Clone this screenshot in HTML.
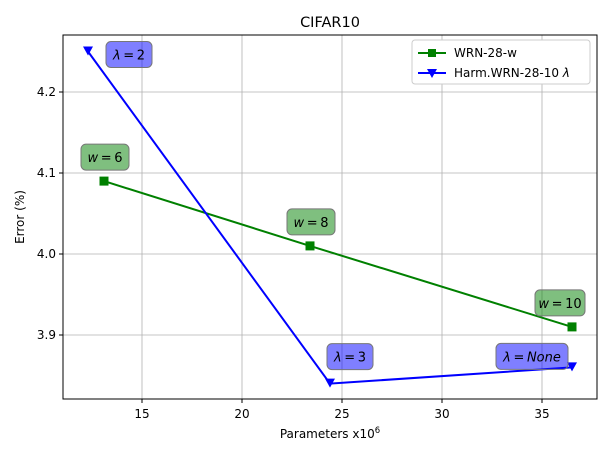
<!DOCTYPE html>
<html><head><meta charset="utf-8"><style>
body{margin:0;background:#fff}
svg{font-family:"DejaVu Sans","Liberation Sans",sans-serif}
</style></head><body>
<svg id="chart" width="614" height="460" viewBox="0 0 614 460" xmlns="http://www.w3.org/2000/svg">
<rect width="614" height="460" fill="#fff"/>
<g id="grid"></g>
<g id="series"></g>
<g id="labels"></g>
<rect x="63" y="35" width="534" height="364" fill="none" stroke="#000" stroke-width="1"/>
<g id="ticks"></g>
<text x="330" y="27" font-size="14.5" text-anchor="middle">CIFAR10</text>
<text x="330" y="438" font-size="12" text-anchor="middle">Parameters x10<tspan dy="-5" font-size="8.5">6</tspan></text>
<text transform="translate(24,217) rotate(-90)" font-size="12" text-anchor="middle">Error (%)</text>
<g>
<rect x="412" y="40" width="178" height="44" rx="3" fill="#fff" stroke="#ccc"/>
<line x1="418" y1="53" x2="446" y2="53" stroke="green" stroke-width="2"/>
<rect x="428" y="49" width="8" height="8" fill="green"/>
<text x="454" y="57" font-size="12">WRN-28-w</text>
<line x1="418" y1="73" x2="446" y2="73" stroke="blue" stroke-width="2"/>
<path d="M427,69 L437,69 L432,78 Z" fill="blue"/>
<text x="454" y="77" font-size="12">Harm.WRN-28-10 <tspan font-style="italic">λ</tspan></text>
</g>
</svg>
<script>
const xTicks=[15,20,25,30,35];
const yTicks=[3.9,4.0,4.1,4.2];
const wrnX=[13.1,23.4,36.5];
const wrnY=[4.09,4.01,3.91];
const wrnLabels=["6","8","10"];
const harmX=[12.3,24.4,36.5];
const harmY=[4.25,3.84,3.86];
const harmLabels=["2","3","None"];
const sx=v=>142+(v-15)*20;
const sy=v=>254-(v-4.0)*810;
const NS="http://www.w3.org/2000/svg";
function mk(t,a,p){const e=document.createElementNS(NS,t);for(const k in a)e.setAttribute(k,a[k]);p.appendChild(e);return e;}
const grid=document.getElementById('grid'),ticks=document.getElementById('ticks'),ser=document.getElementById('series'),lab=document.getElementById('labels');
xTicks.forEach(v=>{const x=sx(v);
const g=mk('line',{x1:x,x2:x,y1:35,y2:399,stroke:'#b0b0b0','stroke-width':0.8},grid);


mk('line',{x1:x,x2:x,y1:399,y2:403,stroke:'#000'},ticks);
const t=mk('text',{x:x,y:418,'font-size':12,'text-anchor':'middle'},ticks);t.textContent=v;

});
yTicks.forEach(v=>{const y=sy(v);
const g=mk('line',{x1:63,x2:597,y1:y,y2:y,stroke:'#b0b0b0','stroke-width':0.8},grid);


mk('line',{x1:59,x2:63,y1:y,y2:y,stroke:'#000'},ticks);
const t=mk('text',{x:56,y:y+4,'font-size':12,'text-anchor':'end'},ticks);t.textContent=v.toFixed(1);

});
const l1=mk('polyline',{points:wrnX.map((v,i)=>sx(v)+','+sy(wrnY[i])).join(' '),fill:'none',stroke:'green','stroke-width':2},ser);


const l2=mk('polyline',{points:harmX.map((v,i)=>sx(v)+','+sy(harmY[i])).join(' '),fill:'none',stroke:'blue','stroke-width':2},ser);


function label(bx,by,w,fill,sym,val,name){
const b=mk('rect',{x:bx,y:by,width:w,height:26,rx:5,fill:fill,stroke:'#777'},lab);


const t=mk('text',{x:bx+w/2,y:by+18,'font-size':13,'text-anchor':'middle'},lab);
const s=mk('tspan',{'font-style':'italic'},t);s.textContent=sym;
const e=mk('tspan',{},t);e.textContent='\u2009=\u2009';
const vv=mk('tspan',{'font-style':isNaN(+val)?'italic':'normal'},t);vv.textContent=val;

}
wrnX.forEach((v,i)=>{const x=sx(v),y=sy(wrnY[i]);
const m=mk('rect',{x:x-4.5,y:y-4.5,width:9,height:9,fill:'green'},ser);


const bx=i==2?x-37:x-23;
label(bx,y-37,i==2?50:48,'rgba(0,128,0,0.5)','w',wrnLabels[i],'wrn-label');});
harmX.forEach((v,i)=>{const x=sx(v),y=sy(harmY[i]);
const m=mk('path',{d:`M${x-5},${y-5} L${x+5},${y-5} L${x},${y+4} Z`,fill:'blue'},ser);


const w=harmLabels[i].length>2?72:46;
const bx=i==2?x-76:(i==1?x-3:x+18), by=i==0?y-10:(i==1?y-40:y-24);
label(bx,by,w,'rgba(0,0,255,0.5)','λ',harmLabels[i],'harm-label');});
</script>
</body></html>
